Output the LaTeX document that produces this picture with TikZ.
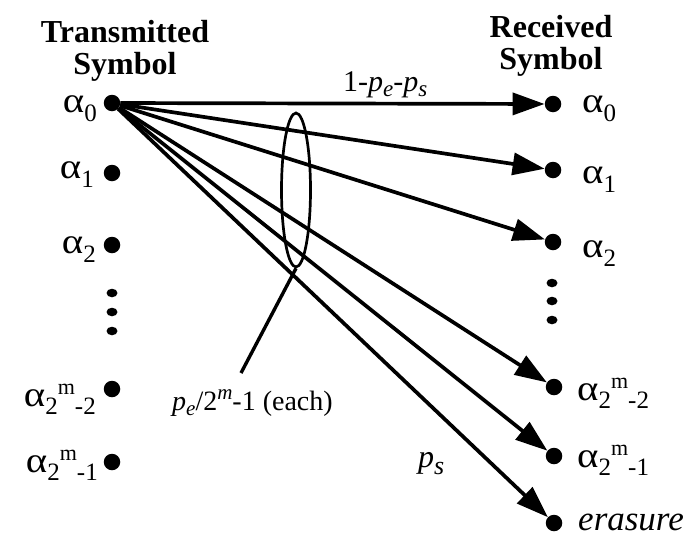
\documentclass[tikz,border=0pt]{standalone}
\usepackage{fontspec}
\setmainfont{Liberation Serif}
\usetikzlibrary{arrows.meta,shapes.geometric}

\newcommand{\headfont}{\fontsize{32}{32}\selectfont\bfseries}
\newcommand{\symfont}{\fontsize{34}{36}\selectfont}
\newcommand{\subfont}{\fontsize{25}{27}\selectfont}
\newcommand{\supfont}{\fontsize{22}{24}\selectfont}
\newcommand{\alphaglyph}{\scalebox{1.2}[1.05]{α}}
\newcommand{\alp}[1]{\alphaglyph\raisebox{-9pt}{\subfont #1}}
\newcommand{\alpm}[1]{\alphaglyph\raisebox{-8pt}{\subfont 2\raisebox{20pt}{\supfont m}-#1}}

\begin{document}
\begin{tikzpicture}[x=1pt, y=-1pt, >={Triangle[length=32pt, width=22pt]},
    bigdot/.style={circle, fill, inner sep=0pt, minimum size=16.5pt},
    smalldot/.style={ellipse, fill, inner sep=0pt, minimum width=11pt, minimum height=8.5pt},
    symlabel/.style={inner sep=0pt, font=\symfont},
    heading/.style={inner sep=0pt, align=center, font=\headfont},
    link/.style={->, line width=3.7pt}]
    \useasboundingbox (0,0) rectangle (687,546);

    % 1. Headings
    \node[heading, anchor=north] (txhead) at (125,20) {Transmitted\\Symbol};
    \node[heading, anchor=north] (rxhead) at (551,15) {Received\\Symbol};

    % 2. Transmitted symbols (left column)
    \node[bigdot] (t0) at (112,103) {};
    \node[bigdot] (t1) at (112,173) {};
    \node[bigdot] (t2) at (112,245) {};
    \node[bigdot] (tm2) at (112,389) {};
    \node[bigdot] (tm1) at (112,462) {};
    \foreach \y in {293,312,331}
        \node[smalldot] at (112,\y) {};

    \node[symlabel, anchor=base east] (lt0) at (97,112) {\alp{0}};
    \node[symlabel, anchor=base east] (lt1) at (94,178) {\alp{1}};
    \node[symlabel, anchor=base east] (lt2) at (96,253) {\alp{2}};
    \node[symlabel, anchor=base east] (ltm2) at (96,406) {\alpm{2}};
    \node[symlabel, anchor=base east] (ltm1) at (98,472) {\alpm{1}};

    % 3. Received symbols (right column)
    \node[bigdot] (r0) at (553,104) {};
    \node[bigdot] (r1) at (553,170) {};
    \node[bigdot] (r2) at (553,242) {};
    \node[bigdot] (rm2) at (554,387) {};
    \node[bigdot] (rm1) at (554,456) {};
    \node[bigdot] (er) at (554,523) {};
    \foreach \y in {283,301,320}
        \node[smalldot] at (552,\y) {};

    \node[symlabel, anchor=base west] (lr0) at (582,112) {\alp{0}};
    \node[symlabel, anchor=base west] (lr1) at (582,183) {\alp{1}};
    \node[symlabel, anchor=base west] (lr2) at (582,257) {\alp{2}};
    \node[symlabel, anchor=base west] (lrm2) at (577,400) {\alpm{2}};
    \node[symlabel, anchor=base west] (lrm1) at (577,467) {\alpm{1}};
    \node[symlabel, anchor=base west, font=\fontsize{35}{37}\selectfont\itshape] (ler) at (578,530) {erasure};

    % 4. Transitions from alpha_0
    \draw[link] (t0) -- (r0);
    \draw[link] (t0) -- (r1);
    \draw[link] (t0) -- (r2);
    \draw[link] (t0) -- (rm2);
    \draw[link] (t0) -- (rm1);
    \draw[link] (t0) -- (er);

    % 5. Probabilities
    \node[inner sep=0pt, anchor=base west, font=\fontsize{30}{32}\selectfont] (pc) at (343,91)
        {1-\textit{p}\raisebox{-5pt}{\fontsize{23}{25}\selectfont\textit{e}}-\textit{p}\raisebox{-5pt}{\fontsize{23}{25}\selectfont\textit{s}}};
    \node[inner sep=0pt, anchor=base west, font=\fontsize{32}{34}\selectfont] (ps) at (418,467)
        {\textit{p}\raisebox{-7pt}{\fontsize{26}{28}\selectfont\textit{s}}};

    % 6. Group of wrong-symbol transitions
    \node[draw, ellipse, line width=2.7pt, inner sep=0pt, minimum width=29pt, minimum height=154pt] (grp) at (296,190) {};
    \coordinate (lead) at (241,373);
    \draw[line width=3.4pt] (grp.south) -- (lead);
    \node[inner sep=0pt, anchor=base west, font=\fontsize{28}{30}\selectfont] (each) at (172,410)
        {\textit{p}\raisebox{-5pt}{\fontsize{21}{23}\selectfont\textit{e}}/2\raisebox{11pt}{\fontsize{21}{23}\selectfont\textit{m}}-1 (each)};
\end{tikzpicture}
\end{document}
